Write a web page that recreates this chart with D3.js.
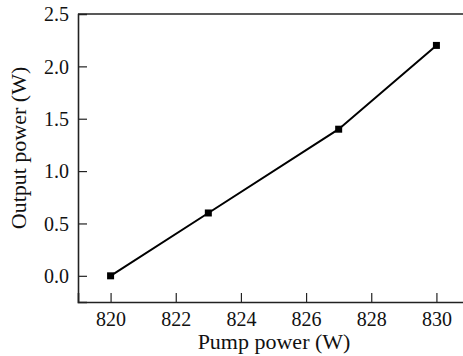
<!DOCTYPE html>
<html><head><meta charset="utf-8">
<script src="https://cdn.jsdelivr.net/npm/d3@7"></script>
<style>body{margin:0;background:#fff}svg{display:block}</style>
</head><body>
<svg id="c" width="463" height="356"></svg>
<script>
const pumpPower = [820, 823, 827, 830];
const outputPower = [0.0, 0.6, 1.4, 2.2];
const xTicks = [820, 822, 824, 826, 828, 830];
const yTicks = [0.0, 0.5, 1.0, 1.5, 2.0, 2.5];

const svg = d3.select("#c");
const font = "'Liberation Serif', serif";
const L = 78, R = 469, T = 14, B = 302;
const x = d3.scaleLinear().domain([819, 831]).range([L, R]);
const y = d3.scaleLinear().domain([-0.25, 2.5]).range([B, T]);

const gx = svg.append("g").attr("transform", `translate(0,${B})`)
  .call(d3.axisBottom(x).tickValues(xTicks).tickSize(-9).tickPadding(0).tickFormat(d3.format("d")));
const gy = svg.append("g").attr("transform", `translate(${L},0)`)
  .call(d3.axisLeft(y).tickValues(yTicks).tickSize(-9).tickPadding(9).tickFormat(d3.format(".1f")));
[gx, gy].forEach(g => {
  g.select(".domain").attr("stroke", "#222").attr("stroke-width", 1.6);
  g.selectAll(".tick line").attr("stroke", "#222").attr("stroke-width", 1.2);
  g.selectAll("text").attr("font-family", font).attr("font-size", 20).attr("fill", "#111");
});
gx.selectAll("text").attr("dy", null).attr("y", 24);
gy.selectAll("text").attr("dy", "0.34em");
gy.select(".tick:last-of-type line").remove();
svg.append("line").attr("x1", L).attr("x2", R).attr("y1", T).attr("y2", T)
  .attr("stroke", "#222").attr("stroke-width", 1.6);

const pts = pumpPower.map((p, i) => [p, outputPower[i]]);
svg.append("path").datum(pts)
  .attr("d", d3.line().x(d => x(d[0])).y(d => y(d[1])))
  .attr("fill", "none").attr("stroke", "#000").attr("stroke-width", 2);
svg.selectAll("rect.m").data(pts).join("rect").attr("class", "m")
  .attr("x", d => x(d[0]) - 3.5).attr("y", d => y(d[1]) - 3.5)
  .attr("width", 7).attr("height", 7).attr("fill", "#000");

svg.append("text").attr("x", 274).attr("y", 349).attr("text-anchor", "middle")
  .attr("font-family", font).attr("font-size", 22).attr("fill", "#111").text("Pump power (W)");
svg.append("text").attr("transform", "translate(26,148) rotate(-90)").attr("text-anchor", "middle")
  .attr("font-family", font).attr("font-size", 22).attr("fill", "#111").text("Output power (W)");
</script>
</body></html>
